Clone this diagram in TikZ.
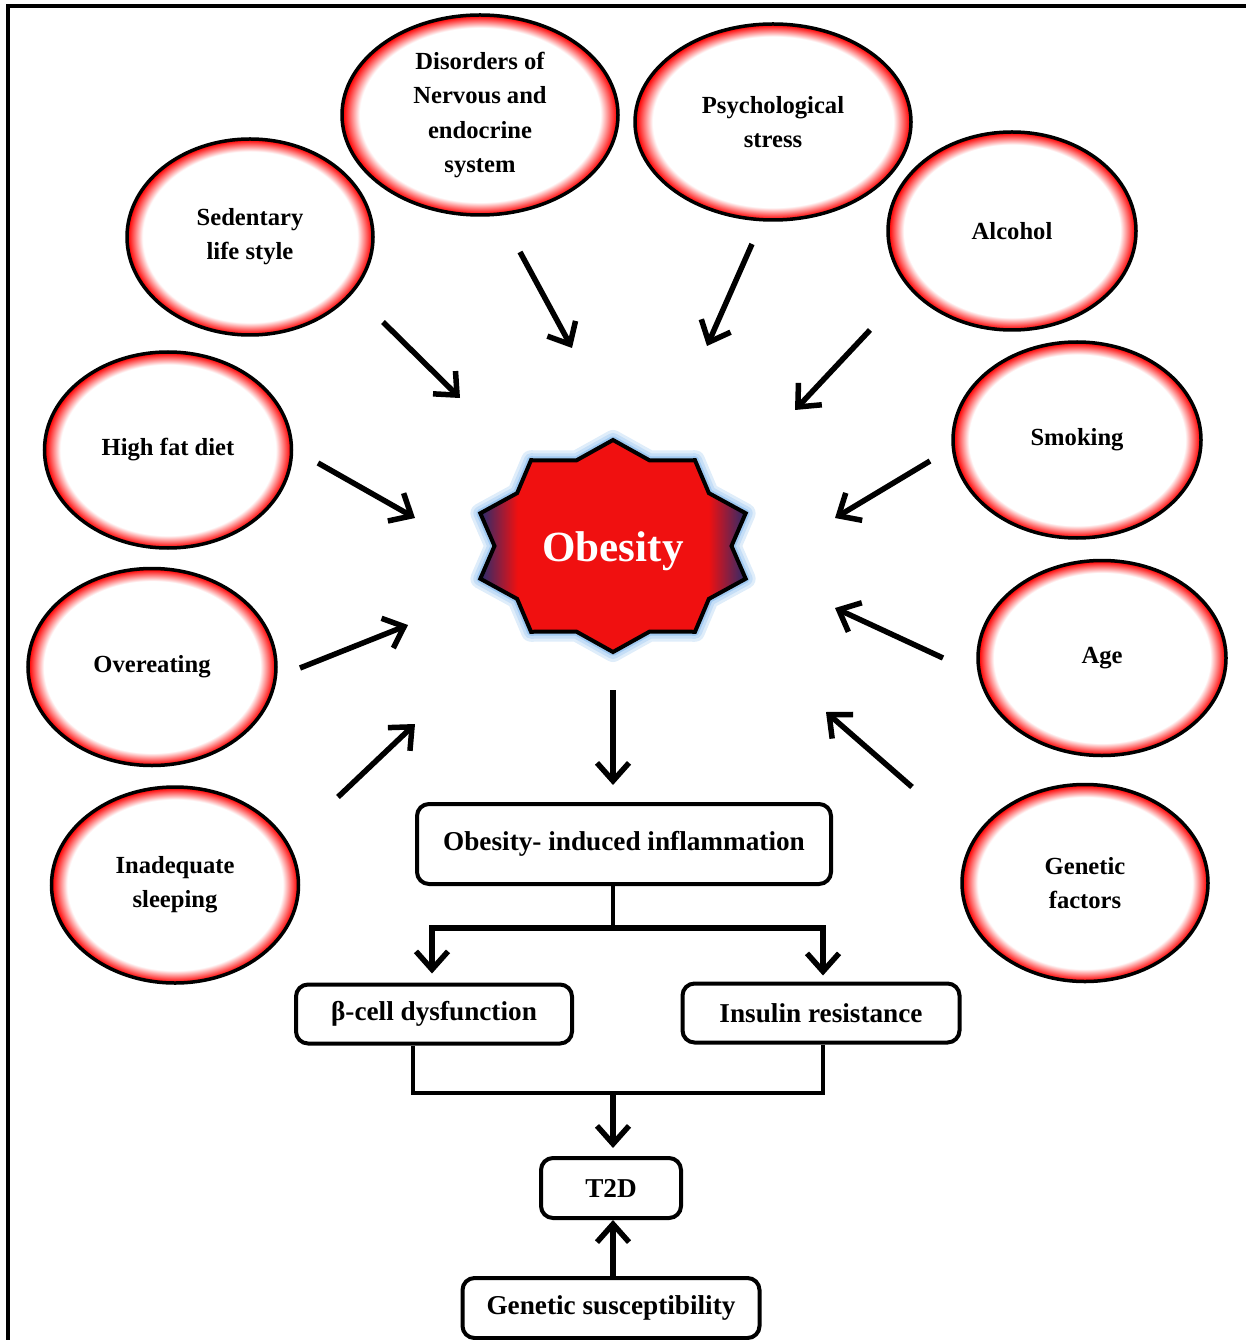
\documentclass[tikz,border=0pt]{standalone}
\usepackage{fontspec}
\setmainfont{Liberation Serif}
\usetikzlibrary{shapes.geometric,arrows.meta}

\definecolor{obred}{RGB}{240,16,16}
\definecolor{obnavy}{RGB}{40,44,110}
\definecolor{glowblue}{RGB}{150,195,240}
\pgfdeclareradialshading{redring}{\pgfpoint{0bp}{0bp}}{color(0bp)=(white); color(21.8bp)=(white); color(24.8bp)=(red); color(50bp)=(red)}
\pgfdeclarehorizontalshading{obside}{100bp}{color(0bp)=(obnavy); color(25bp)=(obnavy); color(32bp)=(obred); color(68bp)=(obred); color(75bp)=(obnavy); color(100bp)=(obnavy)}

\begin{document}
\begin{tikzpicture}
\tikzset{ovale/.style={ellipse, draw=black, line width=0.07cm, shade, shading=redring, inner sep=0pt, align=center, font=\fontsize{14}{19.4}\selectfont\bfseries}}
\tikzset{boite/.style={draw, line width=0.08cm, rounded corners=0.24cm, inner sep=0pt, align=center, font=\fontsize{15.5}{19}\selectfont\bfseries}}
\tikzset{fleche/.style={line width=0.11cm, -{Straight Barb[length=3.6mm, width=6.4mm]}}}
\useasboundingbox (0,0) rectangle (24.92,-26.8);
\draw[line width=0.08cm] (0.16,-26.8) -- (0.16,-0.12) -- (24.92,-0.12);
% the causes
\node[ovale, minimum width=4.92cm, minimum height=3.92cm] (Sed) at (5.00,-4.74) {Sedentary\\life style};
\node[ovale, minimum width=5.52cm, minimum height=4.00cm] (Nerv) at (9.60,-2.30) {Disorders of\\Nervous and\\endocrine\\system};
\node[ovale, minimum width=5.52cm, minimum height=3.92cm] (Psy) at (15.46,-2.44) {Psychological\\stress};
\node[ovale, minimum width=4.96cm, minimum height=3.96cm] (Alc) at (20.24,-4.62) {Alcohol};
\node[ovale, minimum width=4.94cm, minimum height=3.92cm] (Fat) at (3.36,-9.00) {High fat diet};
\node[ovale, minimum width=4.96cm, minimum height=3.92cm] (Smo) at (21.54,-8.80) {Smoking};
\node[ovale, minimum width=4.96cm, minimum height=3.94cm] (Over) at (3.04,-13.34) {Overeating};
\node[ovale, minimum width=4.96cm, minimum height=3.90cm] (Age) at (22.04,-13.16) {Age};
\node[ovale, minimum width=4.94cm, minimum height=3.92cm] (Sleep) at (3.50,-17.70) {Inadequate\\sleeping};
\node[ovale, minimum width=4.92cm, minimum height=3.94cm] (Gen) at (21.70,-17.66) {Genetic\\factors};
% the star
\begin{scope}[shift={(12.26,-10.92)}]
\foreach \w/\c in {0.40/30, 0.28/55, 0.16/90}
  \draw[glowblue!\c, line width=\w cm, line join=round] (90:2.79cm and 2.12cm) \foreach \a in {90,126,...,414} {-- ({\a+18}:2.37cm and 1.80cm) -- ({\a+36}:2.79cm and 2.12cm)} -- cycle;
\path[shade, shading=obside, draw=black, line width=0.08cm] (90:2.79cm and 2.12cm) \foreach \a in {90,126,...,414} {-- ({\a+18}:2.37cm and 1.80cm) -- ({\a+36}:2.79cm and 2.12cm)} -- cycle;
\end{scope}
\node[text=white, font=\fontsize{24.5}{28}\selectfont\bfseries] (Ob) at (12.26,-11.02) {Obesity};
% the flow chart
\node[boite, minimum width=8.28cm, minimum height=1.60cm] (Inf) at (12.48,-16.88) {Obesity- induced inflammation};
\node[boite, minimum width=5.52cm, minimum height=1.18cm] (Beta) at (8.68,-20.28) {β-cell dysfunction};
\node[boite, minimum width=5.54cm, minimum height=1.18cm] (Ins) at (16.42,-20.26) {Insulin resistance};
\node[boite, minimum width=2.80cm, minimum height=1.20cm] (T2D) at (12.22,-23.76) {T2D};
\node[boite, minimum width=5.94cm, minimum height=1.20cm] (Sus) at (12.22,-26.16) {Genetic susceptibility};
% arrow ends
\coordinate (Sed1) at (7.66,-6.44);   \coordinate (Sed2) at (9.20,-7.96);
\coordinate (Nerv1) at (10.40,-5.04); \coordinate (Nerv2) at (11.44,-6.96);
\coordinate (Psy1) at (15.04,-4.88);  \coordinate (Psy2) at (14.14,-6.92);
\coordinate (Alc1) at (17.40,-6.60);  \coordinate (Alc2) at (15.90,-8.20);
\coordinate (Fat1) at (6.36,-9.26);   \coordinate (Fat2) at (8.30,-10.36);
\coordinate (Smo1) at (18.60,-9.22);  \coordinate (Smo2) at (16.70,-10.36);
\coordinate (Over1) at (6.00,-13.36); \coordinate (Over2) at (8.16,-12.50);
\coordinate (Age1) at (18.86,-13.16); \coordinate (Age2) at (16.70,-12.16);
\coordinate (Sleep1) at (6.76,-15.94); \coordinate (Sleep2) at (8.30,-14.48);
\coordinate (Gen1) at (18.24,-15.74); \coordinate (Gen2) at (16.52,-14.24);
\coordinate (Ob1) at (12.26,-13.80);  \coordinate (Ob2) at (12.26,-15.70);
\coordinate (split) at (12.26,-18.56);
\coordinate (join) at (12.26,-21.86);
\draw[fleche] (Sed1) -- (Sed2);
\draw[fleche] (Nerv1) -- (Nerv2);
\draw[fleche] (Psy1) -- (Psy2);
\draw[fleche] (Alc1) -- (Alc2);
\draw[fleche] (Fat1) -- (Fat2);
\draw[fleche] (Smo1) -- (Smo2);
\draw[fleche] (Over1) -- (Over2);
\draw[fleche] (Age1) -- (Age2);
\draw[fleche] (Sleep1) -- (Sleep2);
\draw[fleche] (Gen1) -- (Gen2);
\draw[fleche] (Ob1) -- (Ob2);
\draw[line width=0.09cm] (Inf.south -| split) -- (split);
\draw[fleche, shorten >=0.18cm] (split) -| ([xshift=-0.04cm]Beta.north);
\draw[fleche, shorten >=0.12cm] (split) -| ([xshift=0.04cm]Ins.north);
\draw[line width=0.09cm] ([xshift=-0.42cm]Beta.south) |- (join) -| ([xshift=0.04cm]Ins.south);
\draw[fleche, shorten >=0.16cm] (join) -- (T2D.north -| join);
\draw[fleche] (Sus.north -| join) -- (T2D.south -| join);
\end{tikzpicture}
\end{document}
